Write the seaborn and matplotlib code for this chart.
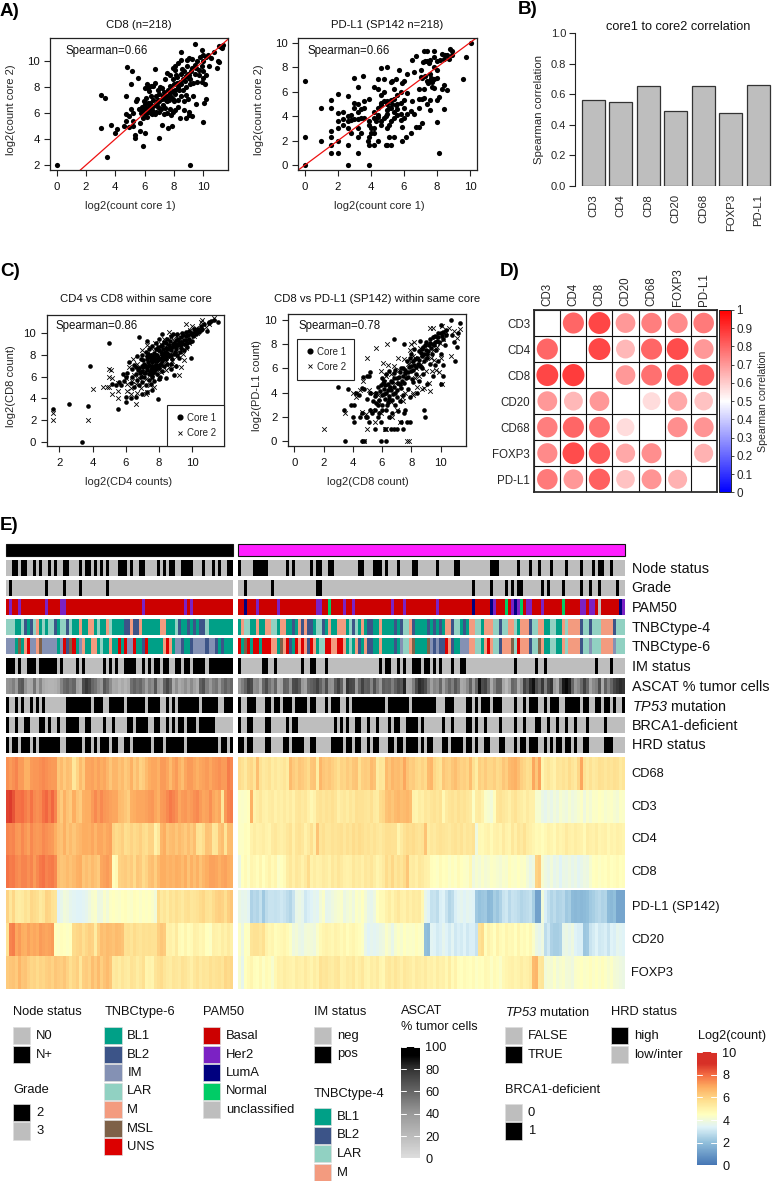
import numpy as np
import pandas as pd
import matplotlib
matplotlib.use("Agg")
import matplotlib.pyplot as plt
from matplotlib.colors import LinearSegmentedColormap, ListedColormap, Normalize
from matplotlib.cm import ScalarMappable
from matplotlib.lines import Line2D
from matplotlib.patches import Rectangle
import seaborn as sns

# ---- panel A scatter values, (core 1, core 2)
CD8_CORES = [
    (0,2),(9.1,2),(3.45,2.6),(5.9,3.45),(7,4.1),(3,4.85),(3,7.4),(3.3,7.15),(4.8,9.55),(5.15,9.2),
    (5.55,8.7),(5.1,8.25),(4.75,7.3),(6.7,9.4),(10,5.35),(9.5,6.7),(10.05,6.8),(10.15,7.05),(3.7,5.1),(4.0,4.5),
    (4.1,4.8),(4.6,5.0),(4.7,5.4),(4.7,5.9),(4.9,5.8),(5.2,5.0),(5.2,5.4),(5.1,6.3),(5.35,4.3),(5.35,4.1),
    (5.7,4.6),(5.65,5.2),(6,4.45),(5.4,6.9),(5.5,7.1),(5.6,6.3),(5.85,6.5),(5.9,6.2),(6.0,5.9),(6.05,6.7),
    (6.1,6.4),(6.2,6.8),(6.25,6.1),(6.0,7.9),(6.15,8.25),(6.2,7.95),(6.3,7.7),(6.4,8.05),(6.55,8.1),(6.7,8.3),
    (6.45,7.3),(6.6,7.0),(6.7,6.6),(6.5,6.25),(6.8,6.1),(6.9,6.5),(7.0,6.9),(7.0,7.5),(7.05,8.0),(7.2,7.9),
    (7.1,6.3),(7.2,5.05),(7.3,5.9),(7.4,6.4),(7.5,6.0),(7.5,6.9),(7.5,7.3),(7.6,7.8),(7.4,8.6),(7.55,9.1),
    (7.7,6.3),(7.6,4.85),(7.85,5.0),(7.8,5.85),(7.9,6.1),(8.0,6.9),(7.8,7.2),(7.9,7.7),(8.0,8.2),(7.9,8.6),
    (7.9,9.5),(8.05,9.6),(8.1,9.3),(8.15,8.9),(8.2,8.3),(8.1,7.5),(8.25,7.0),(8.3,6.5),(8.4,5.6),(8.4,8.4),
    (8.45,10.1),(8.45,10.7),(8.5,9.0),(8.6,8.6),(8.6,7.8),(8.7,6.9),(8.7,6.25),(8.85,5.65),(8.8,7.4),(8.85,8.0),
    (8.9,9.6),(8.9,10.1),(9.0,10.2),(9.0,8.7),(9.05,8.9),(9.1,8.2),(9.0,5.85),(9.0,6.1),(9.2,5.8),(9.3,7.3),
    (9.3,8.35),(9.4,9.0),(9.4,9.7),(9.2,10.15),(9.45,11.35),(9.6,8.4),(9.7,9.3),(9.75,10.3),(9.9,10.85),(10.0,10.5),
    (9.9,9.6),(10.0,9.2),(10.0,8.7),(9.9,8.4),(10.1,8.2),(10.2,8.9),(10.15,10.3),(10.3,10.5),(10.4,9.6),(10.5,10.2),
    (10.7,10.7),(10.9,9.45),(11.0,10.0),(11.1,9.9),(11.2,11.1),(11.3,11.0),(11.35,11.2),(11.1,11.15),(6.4,6.0),(6.5,5.9),
    (5.7,6.3),(6.7,5.9),(6.3,6.5),(6.9,7.0),(7.3,7.6),(7.15,7.05),(7.65,7.0),(8.1,6.2),(7.75,8.1),(8.35,7.8),
    (8.7,9.2),(8.2,8.75),(8.55,9.4),(9.15,9.2),(9.7,8.95),(6.9,7.75),(7.35,7.25),(7.0,6.05),(5.9,5.6),(4.9,4.95),
    (8.95,7.1),(9.6,10.0),(10.0,10.0),(8.25,9.85),(7.7,8.9),(6.1,7.15),(5.95,6.95),(5.2,6.0),(7.9,7.05),(8.5,7.3),
    (6.3,6.3),(6.6,6.55),(6.85,6.8),(7.25,6.6),(7.45,7.0),(7.7,7.55),(8.05,7.75),(8.3,8.0),(8.5,8.2),(8.75,8.45),
    (8.95,9.0),(9.25,9.45),(9.5,9.5),(9.1,8.65),(8.8,8.85),(7.25,7.3),(6.75,7.3),(6.35,6.75),(5.75,6.0),(6.15,5.7),
]
PDL1_CORES = [
    (0,0),(0,2.3),(0,6.9),(1,2),(1,4.7),(1.6,1),(1.6,1.6),(1.6,2.3),(1.6,2.8),(1.6,4.7),
    (1.6,5.35),(2,1),(2,2),(2,3),(2,3.6),(2,4.25),(2,5.8),(2.3,3.3),(2.3,3.8),(2.3,4.3),
    (2.6,0),(2.6,1.6),(2.6,3),(2.6,3.6),(2.6,4),(2.6,5.65),(2.8,2.6),(2.8,3.7),(3,4.7),(3,5.1),
    (3,7.15),(3.2,1),(3.2,2.3),(3.2,3),(3.2,3.8),(3.2,4.3),(3.2,5),(3.2,6.35),(3.4,2.6),(3.4,3.85),
    (3.4,4.6),(3.5,7.3),(3.6,3.85),(3.6,4.7),(3.6,5.2),(3.8,2),(3.9,0),(3.9,1.6),(3.9,2.3),(3.9,3.3),
    (3.9,3.6),(3.9,5.4),(4,2.6),(4,3),(4.2,1.6),(4.2,2.6),(4.2,3),(4.2,3.85),(4.2,4.3),(4.2,6.4),
    (4.3,3.6),(4.4,2),(4.4,3.9),(4.4,4.7),(4.4,6.2),(4.4,7),(4.6,3.3),(4.6,3.6),(4.6,4.9),(4.6,5.7),
    (4.6,5.1),(4.6,7.9),(4.8,3.85),(4.8,5.2),(4.8,6.0),(4.8,7),(4.9,1.6),(5,1.6),(5,3),(5,4.2),
    (5,4.5),(5,5.2),(5,8),(5.1,2.3),(5.1,3.3),(5.2,1.6),(5.2,3.6),(5.2,4.7),(5.2,5.3),(5.3,6.9),
    (5.4,2.3),(5.4,3.85),(5.4,4.3),(5.4,5.4),(5.4,6.2),(5.5,7),(5.6,4.6),(5.6,5),(5.6,5.7),(5.7,7.8),
    (5.8,3.7),(5.8,4.2),(5.8,5.1),(5.8,6.0),(5.9,2),(5.9,3.15),(5.9,6.7),(6,3.85),(6,4.7),(6,5.3),
    (6,6.9),(6.1,2.3),(6.2,4.2),(6.2,5.9),(6.2,7.4),(6.4,2.6),(6.4,4.4),(6.5,5.2),(6.5,8.6),(6.6,4.2),
    (6.6,7.6),(6.7,3.15),(6.7,8.9),(6.9,3.15),(6.9,4.7),(6.9,5.4),(6.9,6.2),(7,7.8),(7.1,3.45),(7.1,5.4),
    (7.1,7.1),(7.2,5.45),(7.2,6.2),(7.2,9.35),(7.3,7.3),(7.3,8.5),(7.4,5),(7.4,6.9),(7.4,8.5),(7.4,9.3),
    (7.6,4.5),(7.6,5.3),(7.6,6.9),(7.6,7.4),(7.6,8.6),(7.7,6.4),(7.8,6.3),(7.8,7),(7.8,8),(7.8,8.8),
    (7.8,9.35),(8,3.55),(8,5.3),(8,7.8),(8,8.5),(8.1,1),(8.1,5.55),(8.2,8.6),(8.3,6.2),(8.3,9.1),
    (8.4,4.6),(8.4,6.5),(8.4,8.7),(8.5,8.95),(8.6,6.1),(8.6,9.0),(8.7,8.7),(8.8,9.5),(8.9,8.95),(8.9,9.3),
    (9.6,7),(9.75,8.8),(10.05,9.95),(5.2,6.8),(3,3.8),(2.8,4.1),(4.4,4.1),(5.6,4.1),(7,7.2),(8,7.1),
    (4.9,4.0),(5.1,4.7),(5.3,5.0),(5.5,4.9),(5.0,5.0),(7.45,6.7),(7.65,7.1),(7.5,8.3),(7.15,8.4),(7.7,6.8),
]

# ---- panel B
CORE_MARKERS = ["CD3", "CD4", "CD8", "CD20", "CD68", "FOXP3", "PD-L1"]
CORE_CORR = [0.56, 0.55, 0.655, 0.49, 0.655, 0.475, 0.66]

# ---- panel C scatter values, (x, y)
CD4_CD8_C1 = [
    (1.6,3),(2.6,3.45),(3.35,0),(3.7,3.3),(3.85,7),(5,9.1),(5.55,3),(6.8,9.6),(7.95,3.9),(6,3.7),
    (6,4.1),(6.3,4),(6.6,4.1),(7.0,4.4),(7.3,4.6),(7.6,4.8),(5.2,5.3),(5.4,5.2),(5.6,5.5),(5.7,5.2),
    (5.9,5.6),(6.0,6.0),(6.1,6.3),(6.2,7.3),(6.3,5.4),(6.4,6.7),(6.5,7.1),(6.5,5.0),(6.6,6.2),(6.7,5.7),
    (6.7,7.9),(6.8,6.8),(6.8,5.2),(6.9,7.6),(7.0,6.5),(7.0,8.0),(7.0,5.5),(7.1,7.2),(7.1,6.0),(7.2,8.3),
    (7.2,5.2),(7.3,6.8),(7.3,7.6),(7.3,9.3),(7.4,6.2),(7.4,7.1),(7.4,8.5),(7.4,5.7),(7.5,6.6),(7.5,7.5),
    (7.5,8.0),(7.5,5.3),(7.6,6.9),(7.6,7.3),(7.6,8.8),(7.6,6.0),(7.7,7.7),(7.7,6.4),(7.7,8.2),(7.7,5.6),
    (7.8,7.1),(7.8,6.7),(7.8,9.1),(7.8,8.5),(7.9,7.4),(7.9,6.2),(7.9,8.0),(8.0,7.6),(8.0,6.8),(8.0,9.5),
    (8.0,5.8),(8.1,8.3),(8.1,7.2),(8.1,8.8),(8.2,7.8),(8.2,6.5),(8.2,9.9),(8.3,8.1),(8.3,7.0),(8.3,9.2),
    (8.4,8.6),(8.4,7.6),(8.4,5.9),(8.5,8.0),(8.5,9.5),(8.5,7.2),(8.6,8.9),(8.6,7.9),(8.7,8.4),(8.7,6.7),
    (8.7,9.7),(8.8,8.7),(8.8,7.6),(8.9,9.1),(8.9,8.1),(8.9,6.1),(9.0,9.4),(9.0,8.5),(9.0,7.0),(9.1,9.9),
    (9.1,8.9),(9.1,8.0),(9.2,9.2),(9.2,7.7),(9.3,9.6),(9.3,8.6),(9.4,10.0),(9.4,9.0),(9.5,9.4),(9.5,8.4),
    (9.6,10.1),(9.6,9.7),(9.7,9.1),(9.7,8.7),(9.8,10.2),(9.8,9.5),(9.9,9.9),(9.9,7.7),(10.0,10.0),(10.0,9.3),
    (10.1,10.4),(10.2,9.9),(10.3,10.2),(10.4,10.1),(10.5,10.7),(10.6,10.4),(10.7,10.8),(10.9,10.2),(11.0,10.9),(11.1,11.1),
    (11.0,11.0),(11.3,11.2),(11.55,11.05),(6.9,6.0),(7.2,7.0),(7.45,6.4),(7.65,7.9),(7.85,7.5),(8.05,6.0),(8.25,8.5),
    (8.45,8.2),(8.65,9.3),(8.85,9.9),(9.05,9.0),(9.25,8.3),(9.45,9.8),(7.05,6.9),(6.6,6.9),(7.35,8.1),(7.55,6.2),
    (7.75,7.0),(7.95,8.7),(8.15,7.4),(8.35,7.9),(8.55,8.5),(8.75,7.2),(8.95,8.8),(9.15,9.5),(6.4,6.0),(5.85,6.2),
    (7.15,6.3),(7.25,6.6),(7.35,7.3),(7.45,7.8),(7.55,7.0),(7.65,6.6),(7.75,7.4),(7.85,6.9),(7.95,7.7),(8.05,7.1),
    (8.15,8.1),(8.25,7.6),(8.35,8.3),(8.45,7.8),(8.55,8.1),(8.65,8.6),(8.75,8.0),(8.85,9.0),(8.95,8.3),(9.05,8.7),
    (9.25,8.9),(9.35,9.2),(9.55,9.0),(9.65,9.4),(9.75,9.8),(9.85,9.2),(10.05,9.7),(10.15,10.1),(10.35,10.4),(10.55,10.3),
    (7.05,7.5),(6.95,7.0),(6.85,6.3),(6.75,6.6),(7.25,7.9),(7.6,7.6),(7.8,8.0),(8.0,8.4),(8.2,8.9),(8.4,9.1),
]
CD4_CD8_C2 = [
    (1.6,2),(1.6,2.6),(3.7,2),(4,4.85),(4.65,5),(4.85,5),(5,5),(5,6.7),(5.1,6.6),(5,6),
    (5.2,5.9),(5.15,4.4),(5.55,4.05),(5.55,4.65),(5.55,5.4),(6.05,4.7),(6,5.9),(6.3,4.4),(6.6,3.45),(6.7,4.5),
    (7.2,4.4),(7.3,4.6),(7.7,5),(6.6,5.3),(6.4,5.6),(6.2,6.9),(6.9,6.4),(6.7,7.2),(7,8.4),(7.1,7.0),
    (7.2,5.8),(7.3,8.1),(7.4,6.9),(7.5,8.6),(7.6,5.9),(7.7,7.3),(7.8,8.4),(7.9,6.6),(8.0,7.9),(8.1,9.0),
    (8.1,6.4),(8.2,8.2),(8.3,9.5),(8.4,7.4),(8.5,8.9),(8.6,10.1),(8.6,6.9),(8.7,7.9),(8.8,7.4),(8.9,9.3),
    (9.0,8.2),(9.1,7.9),(9.2,6.1),(9.3,6.85),(9.3,8.4),(9.4,9.3),(9.5,7.5),(9.6,8.6),(9.8,9.1),(9.6,10.8),
    (10.0,10.7),(10.1,9.7),(10.3,10.0),(10.5,11.0),(10.6,11.2),(10.8,10.6),(11.0,10.8),(11.3,11.4),(7.0,6.1),(7.4,7.7),
    (7.65,8.0),(7.85,7.6),(8.25,7.0),(8.45,8.4),(8.65,8.1),(8.85,8.8),(9.05,9.7),(9.25,9.0),(9.45,8.1),(9.65,9.9),
    (6.1,5.3),(6.5,6.1),(6.8,5.9),(7.15,6.5),(7.55,7.0),(7.95,7.2),(8.35,8.7),(8.75,9.6),(9.15,9.8),(9.85,10.3),
    (6.3,4.9),(6.9,4.9),(7.45,5.2),(8.0,5.9),(8.4,6.6),(8.9,7.0),(6.45,7.6),(7.25,8.9),(7.75,9.1),(10.2,10.5),
]
CD8_PDL1_C1 = [
    (3,4.45),(3.5,0),(3.7,4.3),(3.4,2.6),(3.9,3),(4,2),(4.1,1.6),(4.6,0),(4.75,0),(5.9,0),
    (6.3,0),(4.1,3.0),(4.2,4),(4.4,3.8),(4.5,2.0),(4.6,2.3),(4.6,4.4),(4.7,5.3),(4.8,4.3),(4.9,2),
    (5,5.4),(5,3.5),(5,2),(5.1,5.35),(5.1,1.6),(5.2,5.7),(5.2,4),(5.2,2.6),(5.3,2.3),(5.4,3.3),
    (5.5,1),(5.5,2.6),(5.6,4),(5.6,3.1),(5.7,2.0),(5.7,4.5),(5.8,2.3),(5.8,3.4),(5.9,4.6),(5.9,1.6),
    (6,5.2),(6,3.8),(6,3),(6,2.6),(6.1,4.3),(6.1,5.0),(6.2,3.5),(6.2,1),(6.3,4),(6.3,5.5),
    (6.3,2.6),(6.4,3.2),(6.4,4.7),(6.5,3.7),(6.5,5.8),(6.5,2.0),(6.6,1),(6.6,4.2),(6.6,5.0),(6.7,3.4),
    (6.7,2.3),(6.8,1),(6.8,4.5),(6.8,8.4),(6.8,5.6),(6.9,3.0),(6.9,5.9),(6.9,4.0),(7,1),(7,3.6),
    (7,5.2),(7.1,4.8),(7.1,2.5),(7.2,5.7),(7.2,3.3),(7.3,1.6),(7.3,4.4),(7.3,6),(7.4,1),(7.4,3.8),
    (7.4,5.4),(7.5,8),(7.5,2.3),(7.5,4.8),(7.6,5.9),(7.6,2.6),(7.7,1.6),(7.7,6.6),(7.8,4.3),(7.8,5.3),
    (7.9,1.6),(7.9,6.9),(7.9,3.6),(8,5.8),(8,7.2),(8.1,4.9),(8.2,6.3),(8.2,7.6),(8.3,5.5),(8.4,4.0),
    (8.4,6.9),(8.5,7.4),(8.5,5.0),(8.6,6.2),(8.6,8.3),(8.7,7.0),(8.8,7.8),(8.8,5.5),(8.9,2.6),(8.95,2),
    (8.9,6.6),(9,7.5),(9,8.2),(9.1,6.9),(9.1,4.7),(9.2,7.9),(9.3,6.4),(9.3,8.4),(9.4,7.2),(9.5,5.4),
    (9.5,8.0),(9.6,6.3),(9.6,8.7),(9.7,7.5),(9.8,8.9),(9.8,6.6),(9.9,8.2),(10,4.7),(10,9.6),(10,7.2),
    (10.1,8.7),(10.2,5.4),(10.2,6.3),(10.2,9.0),(10.3,7.9),(10.4,9.2),(10.7,10),(10.8,8.8),(10.95,8.2),(11,6.6),
    (11.1,7.8),(11.2,8.9),(11.3,9.75),(6.1,3.9),(6.4,4.2),(6.7,4.9),(7.05,4.2),(7.35,5),(7.65,5.2),(7.95,6.2),
    (8.25,6.8),(8.55,6.7),(8.85,7.2),(9.15,7.4),(9.45,8.6),(9.75,8.3),(8.75,6.0),(8.05,5.1),(6.35,3.0),(5.75,3.0),
    (6.2,4.6),(6.45,3.5),(6.55,4.5),(6.75,3.9),(6.85,5.2),(7.15,5.3),(7.25,4.7),(7.45,6.0),(7.55,5.6),(7.75,5.7),
    (7.85,6.1),(8.1,6.6),(8.15,5.9),(8.35,6.1),(8.45,6.4),(8.65,7.3),(8.75,7.6),(8.95,7.9),(9.05,7.2),(9.25,8.1),
    (9.35,7.7),(9.55,7.9),(9.65,8.2),(9.85,8.6),(10.05,8.9),(10.15,8.4),(10.35,8.8),(6.05,4.8),(5.85,4.1),(5.55,3.7),
]
CD8_PDL1_C2 = [
    (2,1),(3.5,2.3),(4,4),(4.2,3.6),(4.5,4.2),(4.6,2.4),(4.7,5),(4.8,0),(4.9,2.2),(5,6.9),
    (5,1),(5.1,4.2),(5.3,2.6),(5.5,1.6),(5.6,7.7),(5.7,3.8),(5.9,2.3),(5.95,5.8),(6.05,6.45),(6.2,1),
    (6.3,1),(6.35,8),(6.4,6.3),(6.5,4.4),(6.6,3.2),(6.7,2.0),(6.8,6.2),(7,2.6),(7.1,6.9),(7.2,1.6),
    (7.4,3.3),(7.5,6.8),(7.6,4),(7.7,0),(7.85,0),(7.9,7.5),(8,8),(8.1,4.0),(8.1,3.8),(8.15,7),
    (8.2,8.2),(8.3,6.0),(8.4,4.5),(8.5,5.4),(8.6,7.7),(8.7,4.3),(8.8,7.1),(8.9,4.4),(9,5.8),(9.1,7.0),
    (9.2,4.8),(9.25,4.1),(9.3,9.35),(9.45,9.35),(9.4,5.8),(9.5,7.5),(9.6,8.6),(9.7,5.9),(9.9,5.7),(10,6.9),
    (10.1,4.7),(10.1,9.5),(10.2,8.4),(10.4,9),(10.55,9.35),(10.7,7),(10.9,9.1),(11.1,8.5),(11.35,9.3),(7.25,4.5),
    (5.4,4.0),(5.8,3.2),(6.1,4.9),(6.3,5.4),(6.6,5.5),(6.9,4.8),(7.15,5.9),(7.35,3.6),(7.55,5.5),(7.8,6.4),
    (8,6.5),(8.25,5.2),(8.45,6.9),(8.65,6.4),(8.95,6.8),(9.15,7.9),(9.35,6.9),(9.55,6.7),(9.75,7.8),(9.95,8.1),
]

# ---- panel D, Spearman values (row by row, nan on the diagonal)
CORR_ROWS = [
    [np.nan, 0.80, 0.86, 0.70, 0.75, 0.73, 0.76],
    [0.80, np.nan, 0.86, 0.64, 0.80, 0.85, 0.70],
    [0.86, 0.88, np.nan, 0.70, 0.78, 0.82, 0.81],
    [0.70, 0.64, 0.70, np.nan, 0.57, 0.67, 0.62],
    [0.75, 0.80, 0.78, 0.57, np.nan, 0.72, 0.71],
    [0.73, 0.85, 0.82, 0.67, 0.72, np.nan, 0.65],
    [0.76, 0.70, 0.81, 0.62, 0.71, 0.65, np.nan],
]

# ---- panel E annotation tracks: columns that are "black" for each group
NODE_L = "2-3 5-6 9 11 14 16 19-20 24 26-27 29 31 33 37-39 41 44-45 50 52 54-55 58-61 65 68 70 73-74"
NODE_R = "0 5-9 16 18 24 26-27 30-31 40-41 45-47 49 53 58-59 66 72-73 84-86 93 97 100 104 109 114 118 120-121 124"
GRADE_L = "1 13 19 24 33"
GRADE_R = "2 11 26-27 78 84 89 91 93-94 101 103 108 114 117 120 126"
IM_L = "0-2 4 7-9 11-16 18 23 25 32 34 36 39-42 45 47 49-50 52-53 56-57 59-60 62-65 67-74"
IM_R = "0 8-9 12 21 24-25 29 47 49-50 53 55 58-60 62-63 65 67 71 74-75 92 99 102 119 124"
TP53_L = "0 3 5 8 10 12 20-27 29-31 34-38 40-45 47-50 53 55 57-63 65-69 72-74"
TP53_R = "0 3-5 9-10 12-13 15-17 19-22 24-25 29 31-33 36 38-48 50-56 58-65 69-71 76-77 79 81-83 85-87 92 95 97-99 102 104-106 109-113 115-116 119-120 122-123 125 128"
BRCA_L = "0 3 6-7 11-12 14 17 20-23 26-27 32 35 40-41 43-46 49-50 53 55 57-58 60-62 64-68"
BRCA_R = "0 3-4 9-10 16 18-19 32 34 36 39-40 43 46 50 52-53 56-59 61 68 71 76-77 79 82 87 92 95 99-100 103 106 109 112 116 122"
HRD_L = "0 2-3 5-7 9 11-17 20-24 26-27 29 31-33 35-36 39-40 42-47 49-51 53-58 60-69 71-72 74"
HRD_R = "0-1 3-4 9-10 15-16 18-21 24-25 31-34 36-37 39-40 43 45-46 50-51 53-54 56-59 61 63-64 68-69 71-74 76-77 79 82-83 87-88 92 94-95 97-99 102 104 106-107 109-110 112 115-116 122-124"

# PAM50: Basal everywhere apart from these columns
HER2_L = "1 4 13 18-19 45 59 61"
HER2_R = "6 13 26-27 35 38 51 55 66 85 91 93 96-97 101 114-115 117-118 128"
LUMA_R = "2 78 84 92 127"
NORMAL_R = "30 89 94 108"
UNCL_R = "120"

TNBC4_L = ("LLLTTLBTBL" "MTLTLLBTLL" "BLTTMTTMMT" "LTTMLTTTTB" "BMBBMTTTTT" "TMMTTTLBTT" "BTBTBBLTTT" "TTTTT")
TNBC4_R = ("TMLLTTMTTM" "MLLTMMTTBT" "MBMBBTLLBT" "MTTMMMTLBL" "TMTBBTTMT"
           "TTTBTBLLMBTTTTBTBTBTMMBLLTBTMMLLTMMMLLBLLMMLTMMMBLLMMTTLLTTMLMMMMBLLBLLLMMMMBLLL")
TNBC6_L = ("IIITSTMUII" "MSIIIIITIU" "BSUTIMTTMM" "TLTTMTTUTU" "IIUTTBUTTT" "TTMUMTIIBT" "TBIIIIBIIB" "TBTTT")
TNBC6_R = ("UTSUTUUTUU" "UMMTSMUBTU" "MUMBUMTLLU" "UMMUUMTLTM" "BTMBBTTMT"
           "TTTBTILLMSTTTTSIBIBBUMBTTIIIMMLLTMUMLLBMMMSLUMMMBLLSMTTLLTTMLMMMMBLLILLLMMMMILLL")

ASCAT_L = [
    42, 44, 50, 38, 62, 66, 42, 30, 32, 55, 30, 48, 30, 26, 24, 24, 26, 32, 48, 58,
    62, 55, 60, 35, 30, 70, 78, 72, 60, 55, 45, 40, 66, 58, 45, 30, 32, 24, 30, 24,
    30, 56, 62, 56, 60, 50, 36, 50, 45, 66, 40, 34, 62, 72, 60, 30, 44, 30, 36, 44,
    34, 46, 36, 28, 62, 68, 50, 40, 50, 54, 40, 54, 62, 55, 60,
]
ASCAT_R = [
    40, 50, 60, 74, 70, 44, 46, 30, 60, 70, 55, 45, 60, 30, 34, 62, 60, 42, 70, 72,
    64, 40, 34, 58, 62, 66, 74, 62, 50, 70, 44, 42, 64, 74, 62, 30, 80, 72, 70, 40,
    60, 74, 62, 64, 48, 68, 52, 40, 64, 60, 62, 50, 62, 70, 66, 84, 30, 32, 50, 70,
    82, 78, 70, 52, 36, 48, 44, 60, 36, 50, 60, 50, 66, 56, 30, 34, 46, 62, 40, 60,
    88, 70, 74, 58, 30, 48, 62, 62, 32, 22, 34, 60, 56, 30, 44, 74, 64, 82, 88, 70,
    60, 78, 50, 72, 80, 40, 30, 62, 86, 90, 84, 60, 40, 46, 58, 74, 60, 34, 46, 50,
    70, 30, 62, 48, 60, 72, 78, 82, 80,
]

# ---- panel E heatmap values, log2(count), left group then right group
CD68_L = [
    7.4, 7.2, 7.4, 7.6, 7.2, 7.2, 6.8, 6.8, 7.2, 7.3, 7.3, 7.4, 7.5, 7.4, 7.3,
    7.2, 7.2, 6.3, 6.6, 6.2, 6.5, 6.4, 5.4, 6.0, 6.6, 6.2, 7.0, 7.0, 7.1, 6.9,
    7.1, 6.9, 7.0, 6.7, 6.3, 6.7, 6.7, 6.4, 6.6, 6.2, 6.4, 6.8, 6.2, 6.5, 6.0,
    6.2, 6.6, 6.9, 7.0, 7.0, 6.8, 7.2, 7.2, 7.0, 6.6, 7.0, 7.2, 6.8, 6.5, 7.0,
    7.2, 7.2, 7.0, 6.8, 7.0, 7.1, 7.2, 7.0, 7.2, 7.3, 7.4, 7.2, 7.2, 7.7, 7.5,
]
CD3_L = [
    8.7, 8.8, 8.4, 7.9, 7.9, 8.0, 7.7, 7.5, 7.9, 7.5, 7.4, 7.5, 7.9, 8.1, 7.7,
    8.1, 7.6, 6.6, 6.2, 6.8, 6.4, 6.2, 6.9, 6.4, 6.2, 6.8, 6.9, 6.9, 7.2, 7.5,
    7.2, 7.5, 7.3, 7.2, 7.1, 7.0, 7.0, 6.6, 6.5, 6.3, 6.1, 6.8, 6.9, 7.0, 7.0,
    7.0, 7.1, 7.2, 7.3, 7.0, 6.8, 7.2, 7.3, 7.5, 7.8, 7.6, 7.4, 7.0, 7.2, 7.3,
    7.1, 7.2, 7.4, 7.5, 7.2, 7.0, 7.1, 7.4, 7.0, 6.8, 7.0, 5.4, 7.2, 7.6, 7.7,
]
CD4_L = [
    7.6, 7.5, 7.6, 7.3, 7.2, 7.5, 7.3, 7.1, 7.5, 7.3, 7.2, 7.3, 7.5, 7.4, 7.3,
    7.2, 6.9, 6.5, 6.4, 6.8, 6.3, 6.6, 6.3, 6.6, 6.7, 6.9, 6.9, 6.8, 7.0, 6.7,
    7.0, 7.0, 6.8, 7.0, 7.1, 6.0, 5.8, 5.9, 6.1, 5.7, 5.8, 6.0, 5.8, 5.9, 6.1,
    5.8, 5.7, 6.0, 6.0, 5.0, 5.4, 6.7, 6.9, 6.3, 6.5, 6.6, 6.3, 6.6, 6.4, 6.2,
    6.5, 6.2, 6.5, 5.6, 5.5, 5.8, 6.4, 6.3, 5.4, 5.5, 6.3, 6.5, 5.5, 6.5, 6.6,
]
CD8_L = [
    7.9, 7.7, 7.8, 7.5, 7.4, 7.6, 7.6, 7.4, 7.6, 7.2, 7.5, 7.8, 7.9, 7.6, 7.7,
    7.8, 7.5, 6.5, 6.3, 6.4, 6.6, 6.4, 6.6, 6.8, 6.9, 6.3, 6.5, 6.3, 6.6, 6.4,
    6.2, 7.0, 7.1, 7.2, 7.0, 4.6, 4.8, 6.0, 6.1, 6.2, 6.0, 6.2, 5.8, 6.3, 6.2,
    5.8, 6.0, 6.4, 6.5, 6.1, 6.6, 6.9, 6.9, 6.7, 6.8, 6.7, 6.9, 6.8, 6.6, 6.9,
    6.4, 6.8, 6.5, 6.8, 6.4, 6.7, 6.9, 7.1, 7.1, 7.0, 6.8, 7.0, 7.1, 6.9, 6.8,
]
PDL1_L = [
    6.0, 5.4, 5.9, 5.3, 5.2, 5.3, 5.6, 5.4, 5.9, 5.8, 5.7, 5.3, 5.5, 6.0, 5.9,
    5.6, 5.5, 3.4, 3.7, 4.0, 3.9, 3.6, 3.5, 3.4, 3.4, 3.5, 3.6, 3.9, 4.2, 4.3,
    3.8, 3.9, 4.3, 4.0, 4.4, 4.5, 4.4, 4.3, 4.5, 4.6, 4.4, 4.3, 4.6, 4.5, 4.3,
    4.5, 4.4, 4.5, 4.3, 4.0, 5.8, 5.3, 5.5, 5.2, 5.6, 5.4, 5.7, 5.5, 5.3, 5.6,
    5.7, 5.4, 5.5, 5.6, 5.8, 5.9, 5.6, 5.5, 5.8, 6.0, 6.1, 6.0, 5.7, 6.1, 6.3,
]
CD20_L = [
    5.6, 7.6, 7.7, 7.0, 7.2, 6.9, 6.8, 7.1, 6.9, 7.0, 6.9, 7.2, 7.1, 7.0, 7.1,
    7.2, 4.5, 4.4, 4.6, 4.5, 4.4, 4.5, 5.8, 5.9, 6.0, 5.7, 5.9, 6.1, 6.0, 5.2,
    6.1, 6.5, 6.4, 6.6, 6.5, 6.4, 6.6, 6.5, 6.4, 5.6, 5.7, 5.5, 5.8, 5.6, 5.5,
    5.7, 5.6, 5.7, 5.6, 5.6, 6.1, 6.3, 6.2, 5.0, 5.1, 4.9, 5.3, 4.7, 4.6, 4.9,
    4.6, 4.7, 5.1, 5.0, 4.8, 4.9, 4.5, 4.4, 5.1, 5.0, 4.9, 5.2, 5.0, 5.3, 5.1,
]
FOXP3_L = [
    6.2, 6.3, 6.4, 6.2, 6.7, 6.3, 6.4, 6.1, 5.9, 6.0, 5.8, 6.0, 5.9, 6.1, 6.2,
    6.0, 6.3, 6.2, 6.1, 6.3, 6.0, 5.7, 5.9, 6.1, 5.4, 6.1, 6.2, 6.0, 6.5, 6.2,
    6.6, 6.1, 6.4, 6.6, 6.3, 5.3, 5.4, 5.2, 5.5, 5.3, 5.2, 5.6, 5.5, 5.2, 5.4,
    5.7, 4.9, 5.0, 4.9, 5.5, 5.7, 5.8, 5.5, 5.3, 5.2, 5.5, 5.4, 5.3, 5.6, 5.5,
    5.3, 5.1, 5.4, 5.6, 5.3, 5.5, 5.4, 5.7, 5.5, 5.6, 5.7, 5.5, 5.9, 5.8, 5.9,
]
CD68_R = [
    5.8, 5.6, 5.3, 5.8, 5.9, 5.5, 6.5, 5.6, 5.3, 5.4, 5.6, 5.2, 5.4, 5.2, 5.3,
    5.5, 5.2, 6.6, 6.2, 6.0, 6.3, 6.2, 6.0, 5.8, 6.3, 6.4, 5.2, 6.7, 6.3, 6.2,
    6.3, 6.1, 5.9, 5.7, 6.0, 5.9, 6.2, 6.0, 6.3, 6.4, 5.7, 6.1, 6.2, 6.1, 6.6,
    6.4, 5.2, 5.5, 5.4, 6.6, 6.3, 6.7, 6.5, 6.6, 6.4, 7.0, 6.4, 6.1, 6.2, 5.9,
    5.8, 6.0, 5.8, 6.6, 6.7, 5.9, 5.7, 5.5, 6.3, 6.1, 6.0, 6.3, 6.5, 6.2, 6.0,
    6.1, 5.9, 6.5, 5.7, 5.2, 6.1, 5.9, 6.2, 5.9, 5.9, 6.1, 5.8, 5.9, 6.3, 6.1,
    6.6, 6.7, 6.8, 6.5, 6.1, 5.9, 5.7, 5.8, 7.0, 6.3, 7.1, 4.9, 5.3, 5.5, 5.2,
    5.0, 5.5, 5.4, 5.6, 5.4, 5.8, 5.5, 5.3, 5.9, 7.0, 5.6, 5.3, 5.6, 5.3, 5.4,
    5.7, 5.6, 5.4, 5.6, 5.5, 5.7, 5.6, 5.3, 5.5,
]
CD3_R = [
    4.4, 4.3, 4.4, 4.5, 6.8, 5.0, 5.2, 5.4, 5.1, 5.0, 5.2, 5.3, 5.0, 5.2, 5.1,
    5.3, 5.1, 5.3, 5.0, 5.4, 5.5, 5.3, 5.4, 5.1, 4.8, 5.0, 5.5, 5.6, 5.4, 5.6,
    5.5, 5.7, 5.5, 5.1, 5.3, 5.4, 5.2, 5.5, 5.3, 5.7, 5.6, 5.6, 5.5, 5.4, 5.7,
    5.3, 5.2, 5.8, 5.9, 6.4, 6.5, 6.3, 6.6, 6.7, 6.5, 6.6, 6.7, 6.5, 5.0, 4.9,
    5.2, 5.1, 5.4, 5.3, 5.5, 5.6, 5.4, 5.6, 4.8, 5.3, 5.5, 5.6, 5.4, 5.7, 5.5,
    5.6, 5.4, 5.3, 4.4, 5.2, 5.3, 5.0, 4.3, 4.2, 4.0, 4.6, 5.5, 5.6, 5.4, 5.3,
    5.1, 5.4, 5.6, 5.3, 5.2, 5.0, 5.3, 5.1, 5.1, 4.2, 4.2, 3.8, 3.6, 3.9, 3.7,
    4.0, 3.8, 4.2, 4.0, 3.9, 4.2, 3.9, 4.0, 4.2, 4.4, 3.9, 4.3, 4.1, 4.4, 4.3,
    4.5, 4.4, 4.2, 4.3, 4.4, 4.2, 4.1, 4.4, 4.3,
]
CD4_R = [
    4.4, 4.4, 4.6, 4.5, 5.0, 5.2, 5.0, 5.1, 5.2, 5.0, 4.9, 5.3, 5.4, 5.2, 5.1,
    5.2, 5.4, 5.6, 5.1, 5.5, 5.6, 5.4, 5.0, 5.3, 5.7, 5.1, 6.4, 5.5, 5.7, 5.4,
    5.4, 5.6, 5.5, 5.6, 5.7, 5.4, 5.7, 5.5, 5.8, 5.6, 5.8, 5.7, 5.5, 5.6, 5.4,
    5.6, 5.4, 5.3, 5.5, 5.7, 5.7, 5.6, 5.6, 4.9, 5.3, 5.6, 5.8, 5.7, 5.8, 5.6,
    5.5, 5.6, 6.4, 5.2, 5.4, 5.3, 5.5, 5.6, 5.5, 5.4, 5.3, 5.5, 5.6, 5.4, 5.6,
    5.3, 5.5, 5.4, 5.6, 3.9, 4.8, 4.7, 4.9, 5.0, 4.7, 5.0, 5.1, 4.9, 5.3, 5.0,
    4.9, 5.4, 5.1, 5.5, 5.3, 5.6, 5.2, 5.1, 4.9, 4.7, 4.8, 4.6, 4.8, 5.0, 4.9,
    4.7, 5.1, 4.9, 5.0, 5.3, 5.1, 5.0, 5.2, 5.1, 5.0, 4.7, 5.2, 5.1, 5.0, 5.2,
    4.9, 5.0, 5.1, 4.8, 5.0, 4.9, 5.1, 5.0, 4.9,
]
CD8_R = [
    3.8, 4.5, 4.7, 4.4, 4.9, 4.8, 4.6, 4.9, 4.5, 4.8, 5.0, 4.7, 4.9, 4.3, 4.5,
    4.7, 5.2, 5.4, 5.1, 5.4, 5.3, 5.0, 5.3, 5.8, 5.0, 5.2, 5.0, 5.1, 5.3, 5.2,
    5.0, 5.4, 5.2, 5.5, 5.3, 5.1, 5.0, 5.1, 5.4, 5.2, 5.3, 5.1, 5.4, 5.3, 5.5,
    5.2, 4.9, 5.1, 5.3, 5.8, 5.5, 5.9, 5.4, 5.7, 5.5, 5.8, 6.3, 5.2, 5.3, 5.1,
    5.4, 5.3, 5.1, 5.0, 4.6, 4.5, 4.4, 4.7, 4.5, 4.6, 4.3, 4.6, 4.4, 4.7, 4.5,
    4.4, 4.3, 4.8, 3.9, 4.2, 4.0, 4.3, 4.1, 4.2, 4.4, 4.3, 4.2, 4.1, 4.3, 4.2,
    4.6, 4.4, 4.3, 4.5, 4.3, 4.4, 4.0, 3.7, 3.9, 6.0, 6.2, 4.2, 3.9, 3.7, 4.0,
    3.6, 3.8, 3.4, 3.8, 3.7, 3.9, 3.6, 3.8, 3.5, 3.7, 3.9, 3.8, 4.2, 4.5, 4.6,
    4.4, 4.6, 4.5, 4.7, 4.5, 4.6, 4.7, 4.5, 4.6,
]
PDL1_R = [
    3.8, 3.6, 3.7, 3.5, 2.5, 2.7, 2.6, 2.9, 2.3, 2.8, 3.0, 3.0, 2.9, 3.0, 3.1,
    3.0, 2.8, 2.6, 3.0, 3.7, 3.8, 3.6, 3.1, 3.3, 3.4, 3.6, 3.5, 4.0, 4.3, 3.6,
    3.7, 3.9, 4.1, 4.2, 4.3, 3.8, 4.0, 4.2, 3.9, 4.4, 4.2, 4.5, 4.1, 3.7, 3.6,
    3.9, 4.5, 4.7, 4.7, 5.0, 5.2, 4.9, 5.2, 5.4, 5.1, 5.0, 5.3, 5.1, 5.3, 5.2,
    5.3, 4.8, 3.7, 3.4, 2.9, 3.0, 2.8, 3.3, 3.4, 3.0, 2.6, 2.8, 3.3, 3.5, 3.6,
    3.4, 3.6, 3.5, 3.4, 2.3, 2.1, 2.2, 2.3, 1.8, 1.9, 2.4, 2.2, 2.5, 3.0, 3.1,
    2.7, 3.0, 2.9, 2.8, 2.6, 2.7, 2.8, 2.9, 2.4, 1.2, 1.2, 4.0, 3.3, 2.9, 2.6,
    2.8, 2.5, 2.6, 2.7, 2.3, 2.4, 1.9, 1.8, 1.9, 1.8, 1.9, 2.0, 2.3, 2.4, 2.6,
    2.7, 2.5, 2.6, 1.9, 1.8, 2.0, 1.3, 1.3, 1.3,
]
CD20_R = [
    4.4, 3.8, 4.5, 4.4, 5.5, 5.6, 5.6, 5.4, 5.7, 5.0, 4.8, 4.9, 4.6, 4.7, 4.8,
    4.9, 4.7, 4.4, 3.9, 4.1, 3.8, 3.7, 4.0, 4.1, 4.0, 3.9, 4.3, 4.7, 4.9, 5.0,
    4.9, 4.8, 5.0, 4.9, 4.7, 4.9, 4.6, 4.8, 4.9, 4.7, 4.6, 4.4, 3.7, 3.4, 3.6,
    3.5, 3.6, 3.8, 3.9, 4.3, 4.1, 3.7, 4.2, 4.4, 4.2, 4.5, 4.3, 4.4, 4.3, 4.6,
    4.4, 4.3, 2.0, 1.9, 3.5, 3.4, 3.2, 3.3, 3.6, 3.4, 3.2, 3.5, 3.1, 3.3, 3.2,
    3.4, 3.1, 3.3, 3.3, 3.0, 5.6, 5.8, 4.6, 5.0, 4.8, 4.5, 5.0, 4.7, 4.6, 4.9,
    4.7, 4.8, 4.5, 4.9, 4.6, 4.7, 4.5, 4.8, 4.3, 3.8, 3.6, 3.9, 2.8, 3.1, 2.5,
    2.4, 2.4, 2.5, 3.7, 3.8, 3.6, 3.9, 3.4, 3.3, 3.3, 2.2, 2.3, 3.0, 3.2, 3.4,
    3.1, 3.2, 3.3, 3.0, 3.4, 3.3, 3.6, 3.5, 3.4,
]
FOXP3_R = [
    4.2, 3.6, 4.5, 4.7, 4.9, 4.6, 4.5, 4.8, 4.4, 4.7, 4.6, 4.2, 4.8, 5.1, 5.0,
    5.2, 5.1, 5.0, 4.9, 5.2, 5.1, 5.0, 5.3, 5.1, 4.9, 5.2, 5.0, 5.6, 5.4, 5.5,
    5.3, 5.2, 5.4, 5.5, 5.0, 5.1, 5.3, 5.2, 5.4, 5.0, 5.2, 5.4, 5.0, 4.9, 5.2,
    5.1, 5.3, 4.9, 4.8, 5.3, 5.4, 5.2, 5.5, 5.3, 5.1, 5.4, 5.3, 5.2, 5.0, 5.3,
    5.2, 5.1, 5.3, 5.0, 5.1, 4.9, 5.2, 5.0, 5.1, 4.8, 5.2, 4.7, 5.0, 4.6, 4.5,
    4.7, 4.6, 4.5, 4.7, 4.4, 4.6, 4.5, 4.8, 4.7, 4.4, 4.7, 4.6, 4.3, 4.8, 4.9,
    5.0, 5.1, 4.9, 5.0, 5.2, 5.0, 5.1, 5.3, 6.6, 6.7, 5.4, 5.5, 4.0, 4.2, 4.1,
    4.4, 4.0, 4.2, 4.3, 4.0, 4.1, 3.9, 4.3, 4.4, 4.5, 4.3, 4.4, 4.6, 4.3, 4.5,
    4.3, 4.6, 4.4, 4.2, 4.4, 4.1, 4.0, 3.9, 3.8,
]

HEAT_TOP = ["CD68", "CD3", "CD4", "CD8"]
HEAT_BOTTOM = ["PD-L1 (SP142)", "CD20", "FOXP3"]
TRACK_NAMES = ["Node status", "Grade", "PAM50", "TNBCtype-4", "TNBCtype-6", "IM status",
               "ASCAT % tumor cells", "$\\mathit{TP53}$ mutation", "BRCA1-deficient", "HRD status"]

GRAY = "#BEBEBE"
PAM50_COLS = {"Basal": "#CC0000", "Her2": "#7B22C4", "LumA": "#00007F", "Normal": "#00CC66", "unclassified": GRAY}
TNBC_COLS = {"BL1": "#00A087", "BL2": "#3C5488", "IM": "#8491B4", "LAR": "#91D1C2",
             "M": "#F39B7F", "MSL": "#7E6148", "UNS": "#DC0000"}
TNBC_CODE = {"T": "BL1", "B": "BL2", "I": "IM", "L": "LAR", "M": "M", "S": "MSL", "U": "UNS"}

COUNT_CMAP = LinearSegmentedColormap.from_list("count", [
    (0.0, "#4575B4"), (0.2, "#91BFDB"), (0.34, "#E0F3F8"), (0.45, "#FFFFBF"), (0.57, "#FEE090"),
    (0.69, "#FDAE61"), (0.80, "#F46D43"), (0.90, "#D73027"), (1.0, "#D73027")])
ASCAT_CMAP = LinearSegmentedColormap.from_list("ascat", [
    (0.0, "#DEDEDE"), (0.2, "#BBBBBB"), (0.4, "#999999"), (0.6, "#666666"), (0.8, "#333333"),
    (0.92, "#000000"), (1.0, "#000000")])

W, H = 774, 1181
sns.set_theme(style="white")
plt.rcParams["font.family"] = ["Liberation Sans", "DejaVu Sans"]
plt.rcParams["mathtext.fontset"] = "custom"
plt.rcParams["mathtext.it"] = "Liberation Sans:italic"
plt.rcParams["mathtext.rm"] = "Liberation Sans:italic"

fig = plt.figure(figsize=(W / 100, H / 100), dpi=100)

# overlay in pixel coordinates for free text and the legend swatches
page = fig.add_axes([0, 0, 1, 1], zorder=5)
page.set_xlim(0, W)
page.set_ylim(H, 0)
page.axis("off")


def add_axes_px(x0, y0, x1, y1):
    return fig.add_axes([x0 / W, 1 - y1 / H, (x1 - x0) / W, (y1 - y0) / H])


def cols(spec):
    out = []
    for part in spec.split():
        if "-" in part:
            a, b = part.split("-")
            out.extend(range(int(a), int(b) + 1))
        else:
            out.append(int(part))
    return out


def style_box(ax, ticks_x, ticks_y, fs=8.2):
    for s in ax.spines.values():
        s.set_visible(True)
        s.set_color("#222222")
        s.set_linewidth(0.9)
    ax.set_xticks(ticks_x)
    ax.set_yticks(ticks_y)
    ax.tick_params(axis="both", length=4.5, width=0.8, color="#222222", labelsize=fs,
                   bottom=True, left=True, labelcolor="#111111")
    ax.tick_params(axis="x", pad=4.5)
    ax.tick_params(axis="y", pad=3)


def finish_box(ax, box, title, title_y, xlabel, ylabel, xl_px, yl_px, note, note_xy):
    ax.set_xlabel(xlabel, fontsize=8, va="center")
    ax.set_ylabel(ylabel, fontsize=8, va="center")
    ax.xaxis.set_label_coords((xl_px[0] - box[0]) / (box[2] - box[0]), (box[3] - xl_px[1]) / (box[3] - box[1]))
    ax.yaxis.set_label_coords((yl_px[0] - box[0]) / (box[2] - box[0]), (box[3] - yl_px[1]) / (box[3] - box[1]))
    page.text((box[0] + box[2]) / 2, title_y, title, ha="center", va="center", fontsize=8.2, color="#111111")
    page.text(note_xy[0], note_xy[1], note, ha="left", va="center", fontsize=8.3, color="#111111")


def scatter_panel(box, pairs, xlim, ylim, ticks_x, ticks_y, title, xlabel, ylabel, xl_px, yl_px, note, note_xy):
    ax = add_axes_px(*box)
    data = pd.DataFrame(pairs, columns=["x", "y"])
    sns.scatterplot(data=data, x="x", y="y", color="black", s=14, linewidth=0, ax=ax)
    ax.set_xlim(*xlim)
    ax.set_ylim(*ylim)
    style_box(ax, ticks_x, ticks_y)
    finish_box(ax, box, title, 24.7, xlabel, ylabel, xl_px, yl_px, note, note_xy)
    return ax


def within_core_panel(box, c1, c2, xlim, ylim, ticks_x, ticks_y, title, xlabel, ylabel, xl_px, yl_px, note, note_xy, leg):
    ax = add_axes_px(*box)
    d1 = pd.DataFrame(c1, columns=["x", "y"])
    d2 = pd.DataFrame(c2, columns=["x", "y"])
    sns.scatterplot(data=d1, x="x", y="y", color="black", s=11, linewidth=0, ax=ax)
    sns.scatterplot(data=d2, x="x", y="y", color="black", marker="x", s=11, linewidth=0.6, ax=ax)
    ax.set_xlim(*xlim)
    ax.set_ylim(*ylim)
    style_box(ax, ticks_x, ticks_y)
    finish_box(ax, box, title, 299.3, xlabel, ylabel, xl_px, yl_px, note, note_xy)
    handles = [Line2D([], [], marker="o", ls="", color="black", ms=3.4, label="Core 1"),
               Line2D([], [], marker="x", ls="", color="black", ms=3.4, mew=0.6, label="Core 2")]
    ax.legend(handles=handles, fontsize=7, fancybox=False, framealpha=1, edgecolor="#222222",
              borderaxespad=0, handletextpad=0.3, labelspacing=0.55, borderpad=0.8, handlelength=1.0,
              **leg).get_frame().set_linewidth(0.8)
    return ax


# ---- A
ax = scatter_panel((50, 38.3, 228, 170), CD8_CORES, (-0.45, 11.68), (1.62, 11.75), [0, 2, 4, 6, 8, 10],
                   [2, 4, 6, 8, 10], "CD8 (n=218)", "log2(count core 1)", "log2(count core 2)",
                   (130.6, 205.7), (11, 110), "Spearman=0.66", (65.5, 51))
ax.plot([-1, 13], [-1, 13], color="#EE1111", lw=0.9)
ax = scatter_panel((298.3, 38.3, 476.7, 170), PDL1_CORES, (-0.4, 10.4), (-0.4, 10.35), [0, 2, 4, 6, 8, 10],
                   [0, 2, 4, 6, 8, 10], "PD-L1 (SP142 n=218)", "log2(count core 1)", "log2(count core 2)",
                   (379, 205.7), (259, 110), "Spearman=0.66", (307.7, 51))
ax.plot([-1, 11], [-1, 11], color="#EE1111", lw=0.9)

# ---- B
ax = add_axes_px(574.7, 33, 775, 186)
sns.barplot(x=CORE_MARKERS, y=CORE_CORR, color=GRAY, saturation=1, width=0.833,
            edgecolor="#333333", linewidth=0.9, ax=ax)
ax.set_xlim(-0.67, 6.6)
ax.set_ylim(0, 1)
sns.despine(ax=ax, bottom=True)
ax.spines["left"].set_color("#222222")
ax.spines["left"].set_linewidth(0.8)
ax.set_yticks([0, 0.2, 0.4, 0.6, 0.8, 1.0])
ax.tick_params(axis="y", length=4, width=0.8, left=True, labelsize=8, pad=2, color="#222222")
ax.tick_params(axis="x", length=0, labelsize=8.2, rotation=90, pad=6)
ax.set_ylabel("Spearman correlation", fontsize=8.2, labelpad=5)
page.text(678, 27, "core1 to core2 correlation", ha="center", va="center", fontsize=9.2, color="#111111")

# ---- C
within_core_panel((46.7, 315, 224.3, 446), CD4_CD8_C1, CD4_CD8_C2, (1.24, 11.93), (-0.4, 11.67),
                  [2, 4, 6, 8, 10], [0, 2, 4, 6, 8, 10], "CD4 vs CD8 within same core",
                  "log2(CD4 counts)", "log2(CD8 count)", (129, 482), (11, 386), "Spearman=0.86", (56, 326),
                  dict(loc="lower right", bbox_to_anchor=(1, 0)))
within_core_panel((287.7, 314, 466.3, 445.7), CD8_PDL1_C1, CD8_PDL1_C2, (-0.45, 11.76), (-0.39, 10.5),
                  [0, 2, 4, 6, 8, 10], [0, 2, 4, 6, 8, 10], "CD8 vs PD-L1 (SP142) within same core",
                  "log2(CD8 count)", "log2(PD-L1 count)", (367.7, 482), (256.7, 386), "Spearman=0.78", (298.7, 326),
                  dict(loc="upper left", bbox_to_anchor=(0.052, 0.812)))

# ---- D
corr = pd.DataFrame(CORR_ROWS, index=CORE_MARKERS, columns=CORE_MARKERS)
ax = add_axes_px(534.3, 310, 716.7, 492.3)
long_corr = corr.stack().rename("r").reset_index()
long_corr.columns = ["row", "col", "r"]
long_corr["xp"] = long_corr["col"].map({m: i + 0.5 for i, m in enumerate(CORE_MARKERS)})
long_corr["yp"] = long_corr["row"].map({m: i + 0.5 for i, m in enumerate(CORE_MARKERS)})
dot_sizes = {r: (2 * 11.8 * np.sqrt(r) * 0.72) ** 2 for r in long_corr["r"].unique()}
sns.scatterplot(data=long_corr, x="xp", y="yp", hue="r", hue_norm=(0, 1), palette="bwr", size="r",
                sizes=dot_sizes, linewidth=0, legend=False, ax=ax)
ax.set_xlim(0, 7)
ax.set_ylim(7, 0)
ax.hlines(range(8), 0, 7, color="#111111", lw=0.8)
ax.vlines(range(8), 0, 7, color="#111111", lw=0.8)
ax.set_xticks(np.arange(7) + 0.5, CORE_MARKERS, rotation=90, fontsize=8.3)
ax.set_yticks(np.arange(7) + 0.5, CORE_MARKERS, fontsize=8.3)
ax.xaxis.tick_top()
ax.tick_params(axis="both", length=0, pad=3)
ax.set_xlabel("")
ax.set_ylabel("")
cax = add_axes_px(719.3, 310, 730.7, 492.3)
cb = fig.colorbar(ScalarMappable(Normalize(0, 1), "bwr"), cax=cax)
cb.set_ticks(np.arange(0, 1.01, 0.1), labels=["0", "0.1", "0.2", "0.3", "0.4", "0.5", "0.6", "0.7", "0.8", "0.9", "1"])
cb.ax.tick_params(length=2, width=0.6, labelsize=8.4, pad=2, right=True)
cb.outline.set_linewidth(0.7)
cb.set_label("Spearman correlation", fontsize=7.6, labelpad=4)

# ---- E top group bars
for x0, x1, colour in [(6, 232.7, "black"), (238.3, 625, "#FF1FFF")]:
    page.add_patch(Rectangle((x0, 543.5), x1 - x0, 12.6, fc=colour, ec="#111111", lw=0.8))

LEFT_X = (6, 232.7)
RIGHT_X = (238.3, 625)
N_LEFT, N_RIGHT = 75, 129
TRACK_Y = [560 + 19.62 * i for i in range(10)]


def draw_track(x_box, y0, values, cmap, vmin, vmax, height=16):
    ax = add_axes_px(x_box[0], y0, x_box[1], y0 + height)
    sns.heatmap(np.atleast_2d(values), cmap=cmap, vmin=vmin, vmax=vmax, cbar=False, xticklabels=False,
                yticklabels=False, linewidths=0, rasterized=True, ax=ax)
    return ax


binary = ListedColormap([GRAY, "black"])
binary_tracks = {0: (NODE_L, NODE_R), 1: (GRADE_L, GRADE_R), 5: (IM_L, IM_R),
                 7: (TP53_L, TP53_R), 8: (BRCA_L, BRCA_R), 9: (HRD_L, HRD_R)}
for idx, (left_spec, right_spec) in binary_tracks.items():
    for spec, x_box, n in [(left_spec, LEFT_X, N_LEFT), (right_spec, RIGHT_X, N_RIGHT)]:
        vals = np.zeros(n)
        vals[cols(spec)] = 1
        draw_track(x_box, TRACK_Y[idx], vals, binary, 0, 1)

# PAM50 track
pam_names = list(PAM50_COLS)
pam_cmap = ListedColormap([PAM50_COLS[k] for k in pam_names])
pam_l = np.zeros(N_LEFT)
pam_l[cols(HER2_L)] = 1
pam_r = np.zeros(N_RIGHT)
pam_r[cols(HER2_R)] = 1
pam_r[cols(LUMA_R)] = 2
pam_r[cols(NORMAL_R)] = 3
pam_r[cols(UNCL_R)] = 4
draw_track(LEFT_X, TRACK_Y[2], pam_l, pam_cmap, -0.5, 4.5)
draw_track(RIGHT_X, TRACK_Y[2], pam_r, pam_cmap, -0.5, 4.5)

# TNBC tracks
tnbc_names = list(TNBC_COLS)
tnbc_cmap = ListedColormap([TNBC_COLS[k] for k in tnbc_names])


def tnbc_values(code):
    return np.array([tnbc_names.index(TNBC_CODE[c]) for c in code])


draw_track(LEFT_X, TRACK_Y[3], tnbc_values(TNBC4_L), tnbc_cmap, -0.5, 6.5)
draw_track(RIGHT_X, TRACK_Y[3], tnbc_values(TNBC4_R), tnbc_cmap, -0.5, 6.5)
draw_track(LEFT_X, TRACK_Y[4], tnbc_values(TNBC6_L), tnbc_cmap, -0.5, 6.5)
draw_track(RIGHT_X, TRACK_Y[4], tnbc_values(TNBC6_R), tnbc_cmap, -0.5, 6.5)

# ASCAT track
draw_track(LEFT_X, TRACK_Y[6], ASCAT_L, ASCAT_CMAP, 0, 100)
draw_track(RIGHT_X, TRACK_Y[6], ASCAT_R, ASCAT_CMAP, 0, 100)

for y0, name in zip(TRACK_Y, TRACK_NAMES):
    page.text(631.5, y0 + 8.8, name, ha="left", va="center", fontsize=10.4, color="#111111")

# heatmaps
top_l = np.array([CD68_L, CD3_L, CD4_L, CD8_L])
top_r = np.array([CD68_R, CD3_R, CD4_R, CD8_R])
bot_l = np.array([PDL1_L, CD20_L, FOXP3_L])
bot_r = np.array([PDL1_R, CD20_R, FOXP3_R])
for mat, x_box, y0, y1 in [(top_l, LEFT_X, 757.3, 888), (top_r, RIGHT_X, 757.3, 888),
                           (bot_l, LEFT_X, 890, 988.7), (bot_r, RIGHT_X, 890, 988.7)]:
    ax = add_axes_px(x_box[0], y0, x_box[1], y1)
    sns.heatmap(mat, cmap=COUNT_CMAP, vmin=0, vmax=10, cbar=False, xticklabels=False, yticklabels=False,
                linewidths=0, rasterized=True, ax=ax)

for i, name in enumerate(HEAT_TOP):
    page.text(631.5, 757.6 + 32.7 * (i + 0.5), name, ha="left", va="center", fontsize=9.3, color="#111111")
for i, name in enumerate(HEAT_BOTTOM):
    page.text(631.5, 890.3 + 32.9 * (i + 0.5), name, ha="left", va="center", fontsize=9.3, color="#111111")

# panel letters
for label, x, y in [("A)", 0, 11), ("B)", 518, 10), ("C)", 0, 271), ("D)", 500, 271), ("E)", 0, 526)]:
    page.text(x, y, label, ha="left", va="center", fontsize=13.6, fontweight="bold", color="black")


# ---- E legends
def swatch_legend(x, title_y, first_y, title, names, colours, label_dx=23, step=18.5):
    page.text(x, title_y, title, ha="left", va="center", fontsize=9.3, color="#111111")
    for i, (name, colour) in enumerate(zip(names, colours)):
        y = first_y + step * i
        page.add_patch(Rectangle((x, y), 17.4, 17.4, fc=colour, ec="#DDDDDD", lw=0.5))
        page.text(x + label_dx, y + 9, name, ha="left", va="center", fontsize=9.4, color="#111111")


swatch_legend(13, 1012, 1027, "Node status", ["N0", "N+"], [GRAY, "black"])
swatch_legend(13, 1090, 1103.7, "Grade", ["2", "3"], ["black", GRAY])
swatch_legend(104.3, 1012, 1027, "TNBCtype-6", tnbc_names, [TNBC_COLS[k] for k in tnbc_names])
swatch_legend(202.7, 1012, 1027, "PAM50", pam_names, [PAM50_COLS[k] for k in pam_names])
swatch_legend(313.7, 1012, 1027, "IM status", ["neg", "pos"], [GRAY, "black"])
tnbc4_names = ["BL1", "BL2", "LAR", "M"]
swatch_legend(313.7, 1094, 1108, "TNBCtype-4", tnbc4_names, [TNBC_COLS[k] for k in tnbc4_names])
swatch_legend(504.7, 1012, 1027, "$\\mathit{TP53}$ mutation", ["FALSE", "TRUE"], [GRAY, "black"])
swatch_legend(504.7, 1090, 1103.7, "BRCA1-deficient", ["0", "1"], [GRAY, "black"])
swatch_legend(610.7, 1012, 1027, "HRD status", ["high", "low/inter"], ["black", GRAY])


def gradient_legend(box, cmap, vmin, vmax, ticks, lims):
    cax = add_axes_px(*box)
    cb = fig.colorbar(ScalarMappable(Normalize(vmin, vmax), cmap), cax=cax)
    cax.set_ylim(*lims)
    cb.outline.set_visible(False)
    cb.set_ticks(ticks)
    cax.tick_params(axis="y", length=0, labelsize=9.2, pad=4, labelcolor="#111111", right=True)
    for t in ticks:
        cax.plot([0, 0.28], [t, t], color="white", lw=0.7, transform=cax.get_yaxis_transform())
        cax.plot([0.72, 1], [t, t], color="white", lw=0.7, transform=cax.get_yaxis_transform())


page.text(401.3, 1011, "ASCAT", ha="left", va="center", fontsize=9.2, color="#111111")
page.text(401.3, 1027.3, "% tumor cells", ha="left", va="center", fontsize=9.2, color="#111111")
gradient_legend((400.7, 1041.7, 419.7, 1161), ASCAT_CMAP, 0, 100, [0, 20, 40, 60, 80, 100], (-2.4, 104.5))
page.text(697.7, 1036, "Log2(count)", ha="left", va="center", fontsize=9.2, color="#111111")
gradient_legend((696.7, 1048.3, 716.7, 1168.7), COUNT_CMAP, 0, 10, [0, 2, 4, 6, 8, 10], (-0.3, 10.35))

fig.savefig("out.png", dpi=100)
